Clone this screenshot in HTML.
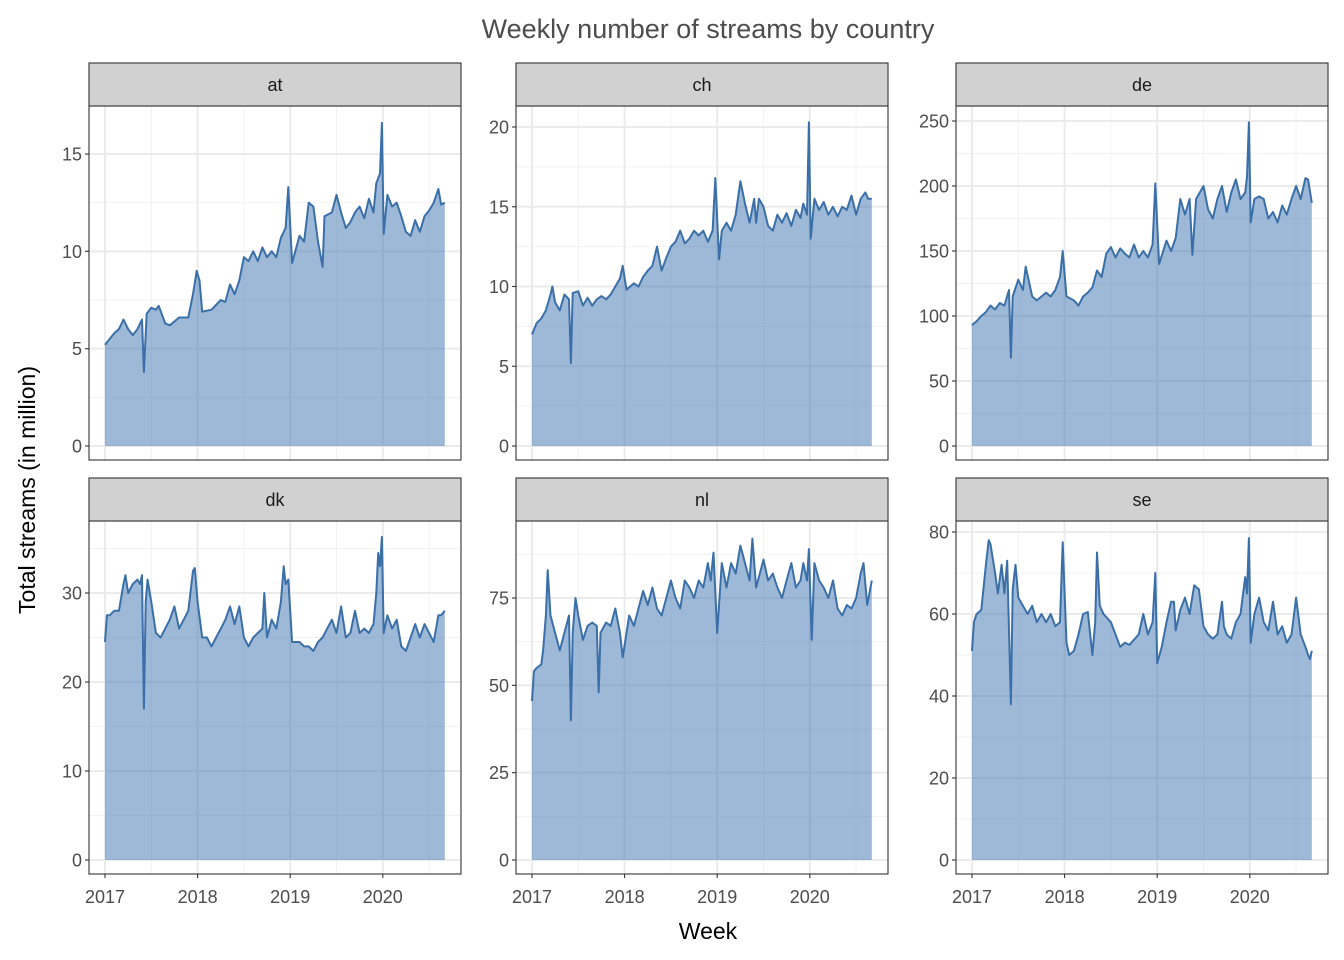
<!DOCTYPE html>
<html><head><meta charset="utf-8"><style>
html,body{margin:0;padding:0;background:#fff;}
svg{display:block;font-family:"Liberation Sans",sans-serif;}
</style></head><body>
<svg id="s" width="1344" height="960" xmlns="http://www.w3.org/2000/svg"></svg>
<script>
const D={
at:[[2017,5.2],[2017.1,5.8],[2017.15,6.0],[2017.2,6.5],[2017.25,6.0],[2017.3,5.7],[2017.35,6.0],[2017.4,6.5],[2017.42,3.8],[2017.45,6.8],[2017.5,7.1],[2017.55,7.0],[2017.58,7.2],[2017.65,6.3],[2017.7,6.2],[2017.8,6.6],[2017.9,6.6],[2017.95,7.8],[2017.99,9.0],[2018.02,8.5],[2018.05,6.9],[2018.15,7.0],[2018.25,7.5],[2018.3,7.4],[2018.35,8.3],[2018.4,7.8],[2018.45,8.5],[2018.5,9.7],[2018.55,9.5],[2018.6,10.0],[2018.65,9.5],[2018.7,10.2],[2018.75,9.7],[2018.8,10.0],[2018.85,9.7],[2018.9,10.7],[2018.95,11.2],[2018.98,13.3],[2019.02,9.4],[2019.1,10.8],[2019.15,10.5],[2019.2,12.5],[2019.25,12.3],[2019.3,10.5],[2019.35,9.2],[2019.37,11.8],[2019.45,12.0],[2019.5,12.9],[2019.55,12.0],[2019.6,11.2],[2019.65,11.5],[2019.7,12.0],[2019.75,12.3],[2019.8,11.7],[2019.85,12.7],[2019.9,12.0],[2019.93,13.5],[2019.97,14.0],[2019.99,16.6],[2020.01,10.9],[2020.05,12.9],[2020.1,12.3],[2020.15,12.5],[2020.2,11.8],[2020.25,11.0],[2020.3,10.8],[2020.35,11.6],[2020.4,11.0],[2020.45,11.8],[2020.5,12.1],[2020.55,12.5],[2020.6,13.2],[2020.63,12.4],[2020.67,12.5]],
ch:[[2017,7.0],[2017.05,7.7],[2017.1,8.0],[2017.15,8.5],[2017.2,9.5],[2017.22,10.0],[2017.25,9.0],[2017.3,8.5],[2017.35,9.5],[2017.4,9.2],[2017.42,5.2],[2017.44,9.6],[2017.5,9.7],[2017.55,8.8],[2017.6,9.3],[2017.65,8.8],[2017.7,9.2],[2017.75,9.4],[2017.8,9.2],[2017.85,9.5],[2017.9,10.0],[2017.95,10.5],[2017.98,11.3],[2018.02,9.8],[2018.1,10.2],[2018.15,10.0],[2018.2,10.6],[2018.25,11.0],[2018.3,11.3],[2018.35,12.5],[2018.4,11.0],[2018.45,11.8],[2018.5,12.5],[2018.55,12.8],[2018.6,13.5],[2018.65,12.7],[2018.7,13.0],[2018.75,13.5],[2018.8,13.2],[2018.85,13.5],[2018.9,12.8],[2018.95,13.5],[2018.98,16.8],[2019.02,11.7],[2019.05,13.5],[2019.1,14.0],[2019.15,13.5],[2019.2,14.5],[2019.25,16.6],[2019.3,15.2],[2019.35,14.0],[2019.4,15.5],[2019.42,14.0],[2019.45,15.5],[2019.5,15.0],[2019.55,13.8],[2019.6,13.5],[2019.65,14.5],[2019.7,14.0],[2019.75,14.6],[2019.8,13.8],[2019.85,14.8],[2019.9,14.3],[2019.93,15.2],[2019.97,14.5],[2019.99,20.3],[2020.01,13.0],[2020.05,15.5],[2020.1,14.8],[2020.15,15.3],[2020.2,14.5],[2020.25,15.0],[2020.3,14.4],[2020.35,15.0],[2020.4,14.8],[2020.45,15.7],[2020.5,14.5],[2020.55,15.5],[2020.6,15.9],[2020.63,15.5],[2020.67,15.5]],
de:[[2017,93],[2017.05,96],[2017.1,100],[2017.15,103],[2017.2,108],[2017.25,105],[2017.3,110],[2017.35,108],[2017.4,120],[2017.42,68],[2017.44,115],[2017.5,128],[2017.55,120],[2017.58,138],[2017.65,115],[2017.7,112],[2017.8,118],[2017.85,115],[2017.9,120],[2017.95,130],[2017.98,150],[2018.02,115],[2018.1,112],[2018.15,108],[2018.2,115],[2018.25,118],[2018.3,122],[2018.35,135],[2018.4,130],[2018.45,148],[2018.5,153],[2018.55,145],[2018.6,152],[2018.65,148],[2018.7,145],[2018.75,155],[2018.8,145],[2018.85,150],[2018.9,145],[2018.95,155],[2018.98,202],[2019.02,140],[2019.1,158],[2019.15,150],[2019.2,160],[2019.25,190],[2019.3,178],[2019.35,190],[2019.38,147],[2019.42,190],[2019.5,200],[2019.55,182],[2019.6,175],[2019.65,190],[2019.7,200],[2019.75,180],[2019.8,195],[2019.85,205],[2019.9,190],[2019.95,195],[2019.97,207],[2019.99,249],[2020.01,172],[2020.05,190],[2020.1,192],[2020.15,190],[2020.2,175],[2020.25,180],[2020.3,172],[2020.35,185],[2020.4,178],[2020.45,190],[2020.5,200],[2020.55,190],[2020.6,206],[2020.63,205],[2020.67,187]],
dk:[[2017,24.5],[2017.02,27.5],[2017.05,27.5],[2017.1,28],[2017.15,28],[2017.2,31],[2017.22,32],[2017.25,30],[2017.3,31],[2017.35,31.5],[2017.38,31],[2017.4,32],[2017.42,17],[2017.44,29],[2017.46,31.5],[2017.5,29],[2017.55,25.5],[2017.6,25],[2017.65,26],[2017.7,27],[2017.75,28.5],[2017.8,26],[2017.85,27],[2017.9,28],[2017.95,32.5],[2017.97,32.8],[2018.0,29],[2018.05,25],[2018.1,25],[2018.15,24],[2018.2,25],[2018.25,26],[2018.3,27],[2018.35,28.5],[2018.4,26.5],[2018.45,28.5],[2018.5,25],[2018.55,24],[2018.6,25],[2018.65,25.5],[2018.7,26],[2018.72,30],[2018.75,25],[2018.8,27],[2018.85,26],[2018.9,29],[2018.93,33],[2018.95,31],[2018.98,31.5],[2019.02,24.5],[2019.1,24.5],[2019.15,24],[2019.2,24],[2019.25,23.5],[2019.3,24.5],[2019.35,25],[2019.4,26],[2019.45,27],[2019.5,25.5],[2019.55,28.5],[2019.6,25],[2019.65,25.5],[2019.7,28],[2019.75,25.5],[2019.8,26],[2019.85,25.5],[2019.9,26.5],[2019.93,30],[2019.95,34.5],[2019.97,33],[2019.99,36.3],[2020.01,25.5],[2020.05,27.5],[2020.1,26],[2020.15,27],[2020.2,24],[2020.25,23.5],[2020.3,25],[2020.35,26.5],[2020.4,25],[2020.45,26.5],[2020.5,25.5],[2020.55,24.5],[2020.6,27.5],[2020.63,27.5],[2020.67,28]],
nl:[[2017,45.5],[2017.02,54],[2017.05,55],[2017.1,56],[2017.12,60],[2017.15,70],[2017.17,83],[2017.2,70],[2017.25,65],[2017.3,60],[2017.35,65],[2017.4,70],[2017.42,40],[2017.44,65],[2017.47,75],[2017.5,70],[2017.55,63],[2017.6,67],[2017.65,68],[2017.7,67],[2017.72,48],[2017.74,65],[2017.8,68],[2017.85,67],[2017.9,72],[2017.95,65],[2017.98,58],[2018.02,65],[2018.05,70],[2018.1,67],[2018.15,72],[2018.2,77],[2018.25,73],[2018.3,78],[2018.35,72],[2018.4,70],[2018.45,75],[2018.5,80],[2018.55,75],[2018.6,72],[2018.65,80],[2018.7,78],[2018.75,75],[2018.8,80],[2018.85,78],[2018.9,85],[2018.93,80],[2018.96,88],[2019.0,65],[2019.05,85],[2019.1,78],[2019.15,85],[2019.2,82],[2019.25,90],[2019.3,85],[2019.35,80],[2019.38,92],[2019.42,78],[2019.5,86],[2019.55,80],[2019.6,82],[2019.65,78],[2019.7,75],[2019.75,80],[2019.8,85],[2019.85,78],[2019.9,80],[2019.93,85],[2019.97,80],[2019.99,89],[2020.02,63],[2020.05,85],[2020.1,80],[2020.15,78],[2020.2,75],[2020.25,80],[2020.3,72],[2020.35,70],[2020.4,73],[2020.45,72],[2020.5,75],[2020.55,82],[2020.58,85],[2020.62,73],[2020.67,80]],
se:[[2017,51],[2017.02,58],[2017.05,60],[2017.1,61],[2017.15,72],[2017.18,78],[2017.2,77],[2017.25,70],[2017.28,65],[2017.32,72],[2017.35,65],[2017.38,73],[2017.42,38],[2017.44,66],[2017.47,72],[2017.5,64],[2017.55,62],[2017.6,60],[2017.65,62],[2017.7,58],[2017.75,60],[2017.8,58],[2017.85,60],[2017.9,57],[2017.95,58],[2017.98,77.5],[2018.02,53],[2018.05,50],[2018.1,51],[2018.15,55],[2018.2,60],[2018.25,60.5],[2018.3,50],[2018.33,58],[2018.35,75],[2018.38,62],[2018.42,60],[2018.5,58],[2018.55,55],[2018.6,52],[2018.65,53],[2018.7,52.5],[2018.8,55],[2018.85,60],[2018.9,55],[2018.95,58],[2018.98,70],[2019.0,48],[2019.05,52],[2019.1,58],[2019.15,63],[2019.18,63],[2019.2,56],[2019.25,61],[2019.3,64],[2019.35,60],[2019.4,67],[2019.45,66],[2019.5,57],[2019.55,55],[2019.6,54],[2019.65,55],[2019.7,63],[2019.72,57],[2019.75,55],[2019.8,54],[2019.85,58],[2019.9,60],[2019.95,69],[2019.97,65],[2019.99,78.5],[2020.01,53],[2020.05,60],[2020.1,64],[2020.15,58],[2020.2,56],[2020.25,63],[2020.3,55],[2020.35,57],[2020.4,53],[2020.45,55],[2020.5,64],[2020.55,55],[2020.6,52],[2020.63,50],[2020.65,49],[2020.67,51]]
};
const panels=[
 {k:'at',x0:89,x1:461,y0:106,y1:460,z:446,t:15,tp:154,ticks:[0,5,10,15],minor:2.5,bottom:false},
 {k:'ch',x0:516,x1:888,y0:106,y1:460,z:446,t:20,tp:127,ticks:[0,5,10,15,20],minor:2.5,bottom:false},
 {k:'de',x0:956,x1:1328,y0:106,y1:460,z:446,t:250,tp:121,ticks:[0,50,100,150,200,250],minor:25,bottom:false},
 {k:'dk',x0:89,x1:461,y0:521,y1:874,z:860,t:30,tp:593,ticks:[0,10,20,30],minor:5,bottom:true},
 {k:'nl',x0:516,x1:888,y0:521,y1:874,z:860,t:75,tp:598,ticks:[0,25,50,75],minor:12.5,bottom:true},
 {k:'se',x0:956,x1:1328,y0:521,y1:874,z:860,t:80,tp:532,ticks:[0,20,40,60,80],minor:10,bottom:true}
];
let h='';
h+='<text x="708" y="38" text-anchor="middle" font-size="27" fill="#4d4d4d">Weekly number of streams by country</text>';
for(const p of panels){
 const xs=v=>p.x0+16+(v-2017)*92.6;
 const ys=v=>p.z-(p.z-p.tp)*v/p.t;
 for(let v=p.minor;ys(v)>p.y0;v+=p.minor*2){h+=`<line x1="${p.x0}" x2="${p.x1}" y1="${ys(v)}" y2="${ys(v)}" stroke="#f2f2f2" stroke-width="1"/>`;}
 for(let yr=2016.5;yr<2021;yr+=1){const x=xs(yr);if(x>p.x0&&x<p.x1)h+=`<line x1="${x}" x2="${x}" y1="${p.y0}" y2="${p.y1}" stroke="#f2f2f2" stroke-width="1"/>`;}
 for(const v of p.ticks){h+=`<line x1="${p.x0}" x2="${p.x1}" y1="${ys(v)}" y2="${ys(v)}" stroke="#ebebeb" stroke-width="2"/>`;
  h+=`<line x1="${p.x0-4}" x2="${p.x0}" y1="${ys(v)}" y2="${ys(v)}" stroke="#333" stroke-width="1.1"/>`;
  h+=`<text x="${p.x0-7}" y="${ys(v)+6.5}" text-anchor="end" font-size="18" fill="#4d4d4d">${v}</text>`;}
 for(let yr=2017;yr<=2020;yr++){const x=xs(yr);h+=`<line x1="${x}" x2="${x}" y1="${p.y0}" y2="${p.y1}" stroke="#ebebeb" stroke-width="2"/>`;
  if(p.bottom){h+=`<line x1="${x}" x2="${x}" y1="${p.y1}" y2="${p.y1+4}" stroke="#333" stroke-width="1.1"/>`;
  h+=`<text x="${x}" y="${p.y1+29}" text-anchor="middle" font-size="18" fill="#4d4d4d">${yr}</text>`;}}
 const d=D[p.k];
 let pts=d.map(q=>`${xs(q[0]).toFixed(1)},${ys(q[1]).toFixed(1)}`).join(' ');
 h+=`<polygon points="${xs(2017).toFixed(1)},${p.z} ${pts} ${xs(2020.67).toFixed(1)},${p.z}" fill="#3b73b0" fill-opacity="0.5"/>`;
 h+=`<polyline points="${pts}" fill="none" stroke="#3b6fa8" stroke-width="2" stroke-linejoin="round"/>`;
 h+=`<rect x="${p.x0}" y="${p.y0}" width="${p.x1-p.x0}" height="${p.y1-p.y0}" fill="none" stroke="#333" stroke-width="1.1"/>`;
 h+=`<rect x="${p.x0}" y="${p.y0-43}" width="${p.x1-p.x0}" height="43" fill="#d1d1d1" stroke="#333" stroke-width="1.1"/>`;
 h+=`<text x="${(p.x0+p.x1)/2}" y="${p.y0-15}" text-anchor="middle" font-size="18" fill="#1a1a1a">${p.k}</text>`;
}
h+='<text x="708" y="939" text-anchor="middle" font-size="23" fill="#000">Week</text>';
h+='<text transform="translate(35,490) rotate(-90)" text-anchor="middle" font-size="23" fill="#000">Total streams (in million)</text>';
document.getElementById('s').innerHTML=h;
</script>
</body></html>
